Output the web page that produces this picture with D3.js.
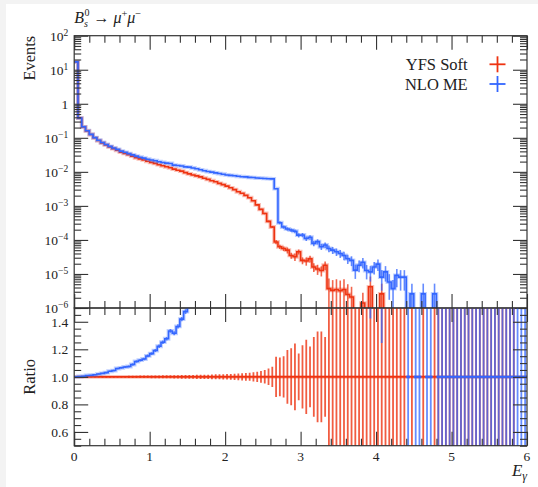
<!DOCTYPE html>
<html>
<head>
<meta charset="utf-8">
<script src="https://cdn.jsdelivr.net/npm/d3@7"></script>
<style>
  body { margin: 0; background: #f3f3f3; }
  svg { display: block; }
  text { font-family: "Liberation Serif", "DejaVu Serif", serif; fill: #222; }
</style>
</head>
<body>
<script>
// photon energy histogram, 120 bins of 0.05 from 0 to 6
const binWidth = 0.05;

const yfsSoft = [
  17, 0.38, 0.21, 0.16, 0.125, 0.10, 0.083, 0.071, 0.062, 0.054,
  0.048, 0.043, 0.038, 0.035, 0.032, 0.029, 0.026, 0.024, 0.0224, 0.0204,
  0.019, 0.0178, 0.0162, 0.0151, 0.0141, 0.0132, 0.0120, 0.0112, 0.0105, 0.0095,
  0.0087, 0.0081, 0.0076, 0.0071, 0.0065, 0.0060, 0.0055, 0.0051, 0.0046, 0.0042,
  0.0038, 0.0034, 0.0030, 0.0026, 0.00234, 0.00204, 0.00174, 0.00141, 0.00107, 0.00079,
  0.0006, 0.00035, 0.00024, 8.7e-5, 6.3e-5, 5.6e-5, 5.0e-5, 3.5e-5, 3.2e-5, 4.5e-5,
  2.5e-5, 2.4e-5, 2.8e-5, 1.6e-5, 1.4e-5, 1.26e-5, 1.8e-5, 3.7e-6, 3.3e-6, 3.5e-6,
  3.2e-6, 3.5e-6, 2.5e-6, 2.1e-6, 0, 0, 1.4e-6, 0, 4.2e-6, 0,
  0, 2.6e-6, 0, 0, 0, 0, 0, 0, 0, 0,
  0, 0, 0, 0, 0, 0, 0, 0, 0, 0,
  0, 0, 0, 0, 0, 0, 0, 0, 0, 0,
  0, 0, 0, 0, 0, 0, 0, 0, 0, 0
];

const nloMe = [
  17, 0.381, 0.211, 0.1616, 0.1265, 0.1015, 0.0847, 0.0728, 0.0639, 0.0562,
  0.0502, 0.0456, 0.0405, 0.0375, 0.0344, 0.0316, 0.0289, 0.0269, 0.0253, 0.0235,
  0.0222, 0.0212, 0.0198, 0.0189, 0.0180, 0.0176, 0.0158, 0.0153, 0.0149, 0.0140,
  0.0138, 0.0130, 0.0123, 0.0115, 0.0108, 0.0102, 0.0098, 0.0093, 0.0089, 0.0085,
  0.0081, 0.0079, 0.0077, 0.0074, 0.0072, 0.0071, 0.0069, 0.0068, 0.0066, 0.0065,
  0.0064, 0.0063, 0.0062, 0.0032, 3.2e-4, 2.4e-4, 2.1e-4, 1.95e-4, 1.8e-4, 1.38e-4,
  1.4e-4, 1.1e-4, 1.2e-4, 7.9e-5, 8.9e-5, 6.3e-5, 7.1e-5, 5.6e-5, 5.0e-5, 4.5e-5,
  4.0e-5, 3.5e-5, 2.8e-5, 2.5e-5, 1.3e-5, 1.8e-5, 2.2e-5, 1.26e-5, 1.15e-5, 1.6e-5,
  1.95e-5, 8.1e-6, 1.15e-5, 5.8e-6, 3.7e-6, 9.1e-6, 8.1e-6, 8.1e-6, 0, 2.6e-6,
  0, 0, 2.6e-6, 0, 0, 2.6e-6, 0, 0, 0, 0,
  0, 0, 0, 0, 0, 0, 0, 0, 0, 0,
  0, 0, 0, 0, 0, 0, 0, 0, 0, 0
];

// relative stat. errors (null = no reference bar in the ratio panel)
const yfsRelErr = [
  0.002, 0.003, 0.004, 0.004, 0.005, 0.005, 0.005, 0.006, 0.006, 0.006,
  0.006, 0.007, 0.007, 0.007, 0.008, 0.008, 0.008, 0.009, 0.009, 0.009,
  0.010, 0.010, 0.010, 0.011, 0.011, 0.011, 0.012, 0.012, 0.013, 0.013,
  0.014, 0.014, 0.015, 0.015, 0.016, 0.016, 0.017, 0.018, 0.018, 0.019,
  0.020, 0.021, 0.022, 0.024, 0.026, 0.028, 0.029, 0.033, 0.037, 0.042,
  0.049, 0.06, 0.073, 0.146, 0.14, 0.15, 0.195, 0.207, 0.243, 0.17,
  0.23, 0.27, 0.22, 0.29, 0.33, 0.33, 0.29, 1, 1, 1,
  1, 1, 1, 1, 1, 1, 1, 1, 1, 1,
  1, 1, 1, 1, 1, 1, 1, 1, null, 1,
  null, null, 1, null, null, 1, 1, 1, 1, 1,
  1, 1, 1, 1, 1, 1, 1, 1, 1, 1,
  1, 1, 1, 1, 1, 1, 1, null, null, null
];

const nloRelErr = [
  0.002, 0.003, 0.004, 0.004, 0.004, 0.005, 0.005, 0.005, 0.006, 0.006,
  0.006, 0.006, 0.007, 0.007, 0.007, 0.008, 0.008, 0.008, 0.008, 0.009,
  0.009, 0.009, 0.010, 0.010, 0.010, 0.010, 0.011, 0.011, 0.011, 0.012,
  0.012, 0.012, 0.012, 0.013, 0.013, 0.013, 0.013, 0.014, 0.014, 0.014,
  0.015, 0.015, 0.015, 0.015, 0.016, 0.016, 0.016, 0.016, 0.017, 0.017,
  0.017, 0.017, 0.018, 0.03, 0.1, 0.11, 0.12, 0.12, 0.13, 0.14,
  0.14, 0.15, 0.15, 0.18, 0.17, 0.2, 0.19, 0.22, 0.23, 0.25,
  0.26, 0.28, 0.3, 0.32, 0.45, 0.38, 0.34, 0.45, 0.48, 0.4,
  0.37, 0.6, 0.48, 0.7, 0.8, 0.55, 0.6, 0.6, 0, 1,
  0, 0, 1, 0, 0, 1, 0, 0, 0, 0,
  0, 0, 0, 0, 0, 0, 0, 0, 0, 0,
  0, 0, 0, 0, 0, 0, 0, 0, 0, 0
];

const decadeTicks = [2, 1, 0, -1, -2, -3, -4, -5, -6];
const ratioTicks = [0.6, 0.8, 1.0, 1.2, 1.4];
const energyTicks = [0, 1, 2, 3, 4, 5, 6];
const legendItems = [
  { name: 'YFS Soft', color: '#EE3311' },
  { name: 'NLO ME', color: '#3366FF' }
];

const width = 538;
const height = 487;
const marginLeft = 74.2;
const marginTop = 35.7;
const plotW = 452.8;
const topH = 272.3;
const ratioH = 137.7;
const red = legendItems[0].color;
const blue = legendItems[1].color;
const axisColor = '#333';

const binLow = d3.range(yfsSoft.length).map(i => i * binWidth);

const svg = d3.select('body').append('svg')
  .attr('width', width)
  .attr('height', height);

svg.append('rect').attr('x', 6).attr('y', 4)
  .attr('width', width - 6).attr('height', height - 4).attr('fill', '#fff');

const defs = svg.append('defs');
defs.append('clipPath').attr('id', 'clipTop')
  .append('rect').attr('width', plotW).attr('height', topH);
defs.append('clipPath').attr('id', 'clipRatio')
  .append('rect').attr('width', plotW).attr('height', ratioH);

const xScale = d3.scaleLinear().domain([0, 6]).range([0, plotW]);
const yTop = d3.scaleLog().domain([1e-6, 1e2]).range([topH, 0]);
const yRatio = d3.scaleLinear().domain([0.5, 1.5]).range([ratioH, 0]);

const stepLine = d3.line().defined(p => p[1] != null);

function stepPoints(vals, yFn) {
  const pts = [];
  vals.forEach((v, i) => {
    const y = yFn(v, i);
    pts.push([xScale(binLow[i]), y], [xScale(binLow[i] + binWidth), y]);
  });
  return pts;
}

function drawStep(g, pts, color) {
  g.append('path').attr('d', stepLine(pts)).attr('fill', 'none')
    .attr('stroke', color).attr('stroke-width', 3.8).attr('stroke-opacity', 0.3);
  g.append('path').attr('d', stepLine(pts)).attr('fill', 'none')
    .attr('stroke', color).attr('stroke-width', 1.6);
}

// ---------- main panel ----------
const topG = svg.append('g').attr('transform', `translate(${marginLeft}, ${marginTop})`);
const topPlot = topG.append('g').attr('clip-path', 'url(#clipTop)');
const yTopPos = v => (v > 0 ? yTop(v) : topH + 20);

[[yfsSoft, yfsRelErr, red], [nloMe, nloRelErr, blue]].forEach(([vals, errs, color]) => {
  const bars = vals.map((v, i) => ({ v, e: errs[i] || 0, i })).filter(d => d.v > 0 && d.e > 0);
  topPlot.selectAll(null).data(bars).enter().append('line')
    .attr('x1', d => xScale(binLow[d.i] + binWidth / 2))
    .attr('x2', d => xScale(binLow[d.i] + binWidth / 2))
    .attr('y1', d => yTop(d.v * (1 + d.e)))
    .attr('y2', d => yTopPos(d.v * (1 - d.e)))
    .attr('stroke', color).attr('stroke-width', 1.6).attr('stroke-opacity', 0.75);
  drawStep(topPlot, stepPoints(vals, v => yTopPos(v)), color);
});

// ---------- ratio panel ----------
const ratioG = svg.append('g').attr('transform', `translate(${marginLeft}, ${marginTop + topH})`);
const ratioPlot = ratioG.append('g').attr('clip-path', 'url(#clipRatio)');

const refBars = yfsRelErr.map((e, i) => ({ e, i })).filter(d => d.e !== null);
ratioPlot.selectAll(null).data(refBars).enter().append('line')
  .attr('x1', d => xScale(binLow[d.i] + binWidth / 2))
  .attr('x2', d => xScale(binLow[d.i] + binWidth / 2))
  .attr('y1', d => (d.e >= 0.5 || yfsSoft[d.i] === 0 ? -2 : yRatio(1 + d.e)))
  .attr('y2', d => (d.e >= 0.5 || yfsSoft[d.i] === 0 ? ratioH + 2 : yRatio(1 - d.e)))
  .attr('stroke', red).attr('stroke-width', 1.8).attr('stroke-opacity', 0.8);
drawStep(ratioPlot, stepPoints(yfsSoft, () => yRatio(1)), red);

const ratioVals = nloMe.map((v, i) => {
  const ref = yfsSoft[i];
  if (ref > 0) return v / ref;
  return v === 0 ? 1 : null;
});
const nloBars = ratioVals.map((r, i) => ({ r, i })).filter(d => d.r !== null);
ratioPlot.selectAll(null).data(nloBars).enter().append('line')
  .attr('x1', d => xScale(binLow[d.i] + binWidth / 2))
  .attr('x2', d => xScale(binLow[d.i] + binWidth / 2))
  .attr('y1', d => (yfsSoft[d.i] === 0 ? -2 : yRatio(d.r * (1 + nloRelErr[d.i]))))
  .attr('y2', d => (yfsSoft[d.i] === 0 ? ratioH + 2 : yRatio(d.r * (1 - nloRelErr[d.i]))))
  .attr('stroke', blue).attr('stroke-width', 1.8).attr('stroke-opacity', 0.75);
drawStep(ratioPlot, stepPoints(ratioVals, r => (r === null ? null : yRatio(r))), blue);

// ---------- axes ----------
const majorLen = 14;
const minorLen = 7;
const minorE = d3.range(0, 6.01, 0.2).filter(v => Math.abs(v - Math.round(v)) > 1e-6);
const minorLog = [];
for (let d = -6; d < 2; d++) for (let m = 2; m <= 9; m++) minorLog.push(m * Math.pow(10, d));
const minorRatio = d3.range(0.5, 1.501, 0.05).filter(v => Math.abs(v * 5 - Math.round(v * 5)) > 1e-6);

function ticks(g, axis, values, len, transform) {
  const a = g.append('g').attr('transform', transform || null)
    .call(axis.tickValues(values).tickSize(-len).tickFormat(''));
  a.select('.domain').remove();
  a.selectAll('line').attr('stroke', axisColor).attr('stroke-width', 1.1);
}

[[topG, yTop, decadeTicks.map(d => Math.pow(10, d)), minorLog, topH],
 [ratioG, yRatio, ratioTicks, minorRatio, ratioH]].forEach(([g, yS, major, minor, h]) => {
  ticks(g, d3.axisLeft(yS), major, majorLen);
  ticks(g, d3.axisLeft(yS), minor, minorLen);
  ticks(g, d3.axisRight(yS), major, majorLen, `translate(${plotW},0)`);
  ticks(g, d3.axisRight(yS), minor, minorLen, `translate(${plotW},0)`);
  ticks(g, d3.axisTop(xScale), energyTicks, majorLen);
  ticks(g, d3.axisTop(xScale), minorE, minorLen);
  ticks(g, d3.axisBottom(xScale), energyTicks, majorLen, `translate(0,${h})`);
  ticks(g, d3.axisBottom(xScale), minorE, minorLen, `translate(0,${h})`);
  g.append('rect').attr('width', plotW).attr('height', h)
    .attr('fill', 'none').attr('stroke', axisColor).attr('stroke-width', 1.2);
});

// tick labels
decadeTicks.forEach(d => {
  const t = topG.append('text').attr('x', -6).attr('y', yTop(Math.pow(10, d)))
    .attr('dy', '0.36em').attr('text-anchor', 'end').attr('font-size', 13.5);
  if (d === 0) {
    t.text('1');
  } else {
    t.append('tspan').text('10');
    t.append('tspan').attr('dy', '-0.5em').attr('font-size', 9.5)
      .text(d < 0 ? '\u2212' + (-d) : d);
  }
});

ratioG.selectAll(null).data(ratioTicks).enter().append('text')
  .attr('x', -6).attr('y', d => yRatio(d)).attr('dy', '0.36em')
  .attr('text-anchor', 'end').attr('font-size', 13.5)
  .text(d => d.toFixed(1));

ratioG.selectAll(null).data(energyTicks).enter().append('text')
  .attr('x', d => xScale(d)).attr('y', ratioH + 15)
  .attr('text-anchor', 'middle').attr('font-size', 13.5)
  .text(d => d);

// axis titles
svg.append('text').attr('transform', `translate(35, ${marginTop}) rotate(-90)`)
  .attr('text-anchor', 'end').attr('font-size', 16.5).text('Events');
svg.append('text').attr('transform', `translate(35, ${marginTop + topH + yRatio(1)}) rotate(-90)`)
  .attr('text-anchor', 'middle').attr('font-size', 16.5).text('Ratio');

const xTitle = svg.append('text').attr('x', marginLeft + plotW).attr('y', 476)
  .attr('text-anchor', 'end').attr('font-size', 17);
xTitle.append('tspan').attr('font-style', 'italic').text('E');
xTitle.append('tspan').attr('font-style', 'italic').attr('font-size', 12).attr('dy', 4).text('\u03b3');

// process label
const title = svg.append('text').attr('x', marginLeft).attr('y', 23).attr('font-size', 16);
title.append('tspan').attr('font-style', 'italic').text('B');
title.append('tspan').attr('font-style', 'italic').attr('font-size', 10).attr('dy', 4).text('s');
title.append('tspan').attr('font-size', 10).attr('dx', -3.5).attr('dy', -11.5).text('0');
title.append('tspan').attr('dy', 7.5).text(' \u2192 ');
title.append('tspan').attr('font-style', 'italic').text('\u03bc');
title.append('tspan').attr('font-size', 10.5).attr('dy', -6.5).text('+');
title.append('tspan').attr('font-style', 'italic').attr('dy', 6.5).text('\u03bc');
title.append('tspan').attr('font-size', 10.5).attr('dy', -6.5).text('\u2212');

// legend
const legend = svg.append('g');
legendItems.forEach((item, i) => {
  const cy = 64.3 + i * 19.7;
  legend.append('text').attr('x', 467.7).attr('y', cy + 5.6)
    .attr('text-anchor', 'end').attr('font-size', 16.5).text(item.name);
  legend.append('line').attr('x1', 489.5).attr('x2', 505.5).attr('y1', cy).attr('y2', cy)
    .attr('stroke', item.color).attr('stroke-width', 1.8);
  legend.append('line').attr('x1', 497.5).attr('x2', 497.5).attr('y1', cy - 8).attr('y2', cy + 8)
    .attr('stroke', item.color).attr('stroke-width', 1.8);
});
</script>
</body>
</html>
